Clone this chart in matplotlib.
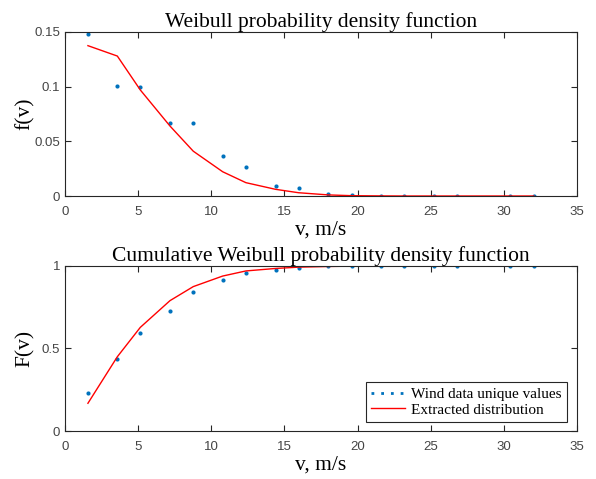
import matplotlib
matplotlib.use('Agg')
import numpy as np
import matplotlib.pyplot as plt
from matplotlib.lines import Line2D

# wind speed bins (unique values), m/s
v = [1.57, 3.58, 5.15, 7.18, 8.77, 10.78, 12.37, 14.4, 15.97, 18.0, 19.6,
     21.6, 23.2, 25.2, 26.8, 30.4, 32.05]
# empirical pdf / cdf
f_data = [0.148, 0.1006, 0.100, 0.067, 0.067, 0.0369, 0.0265, 0.0094, 0.0076,
          0.002, 0.0006, 0.0002, 0.0001, 0.0, 0.0, 0.0, 0.0]
F_data = [0.232, 0.434, 0.594, 0.729, 0.84, 0.913, 0.956, 0.978, 0.99,
          0.997, 0.999, 1.0, 1.0, 1.0, 1.0, 1.0, 1.0]
# fitted weibull
f_fit = [0.1375, 0.128, 0.097, 0.064, 0.041, 0.0222, 0.0122, 0.0061, 0.003,
         0.001, 0.0003, 0.0001, 0.0, 0.0, 0.0, 0.0, 0.0]
F_fit = [0.168, 0.45, 0.628, 0.79, 0.875, 0.939, 0.97, 0.985, 0.993,
         0.997, 0.999, 1.0, 1.0, 1.0, 1.0, 1.0, 1.0]

blue = '#0072BD'
serif = 'Liberation Serif'
sans = 'Liberation Sans'
plt.rcParams['font.family'] = sans
plt.rcParams['axes.edgecolor'] = '#262626'

fig = plt.figure(figsize=(5.96, 4.79), dpi=100)
ax1 = fig.add_axes([0.109, 0.5908, 0.859, 0.3424])
ax2 = fig.add_axes([0.109, 0.1002, 0.859, 0.3445])

def style(ax):
    ax.set_xlim(0, 35)
    ax.set_xticks(range(0, 36, 5))
    ax.tick_params(direction='in', top=True, right=True, labelsize=9.5,
                   colors='#262626', length=4, width=0.8)
    ax.tick_params(axis='x', pad=7)
    ax.tick_params(labelcolor='#444444')
    for s in ax.spines.values():
        s.set_linewidth(0.8)
    ax.set_xlabel('v, m/s', family=serif, fontsize=15.5, labelpad=2)
    ax.yaxis.set_label_coords(-0.058, 0.5)

ax1.plot(v, f_data, ls='none', marker='o', ms=3, mew=0, color=blue)
ax1.plot(v, f_fit, color='r', lw=1)
style(ax1)
ax1.set_ylim(0, 0.15)
ax1.set_yticks([0, 0.05, 0.1, 0.15])
ax1.set_yticklabels(['0', '0.05', '0.1', '0.15'])
ax1.set_ylabel('f(v)', family=serif, fontsize=15.5)
ax1.set_title('Weibull probability density function', family=serif, fontsize=15.5, pad=3.5)

ax2.plot(v, F_data, ls='none', marker='o', ms=3, mew=0, color=blue)
ax2.plot(v, F_fit, color='r', lw=1)
style(ax2)
ax2.set_ylim(0, 1)
ax2.set_yticks([0, 0.5, 1])
ax2.set_yticklabels(['0', '0.5', '1'])
ax2.set_ylabel('F(v)', family=serif, fontsize=15.5)
ax2.set_title('Cumulative Weibull probability density function', family=serif, fontsize=15.5, pad=3.5)

handles = [Line2D([], [], color=blue, ls=(0, (1, 2.5)), lw=2),
           Line2D([], [], color='r', lw=1)]
leg = ax2.legend(handles, ['Wind data unique values', 'Extracted distribution'],
                 loc='lower right', bbox_to_anchor=(0.98, 0.055),
                 prop={'family': serif, 'size': 11}, fancybox=False,
                 framealpha=1, borderpad=0.35, labelspacing=0.1,
                 handlelength=2.2, handletextpad=0.4, borderaxespad=0)
leg.get_frame().set_edgecolor('#262626')
leg.get_frame().set_linewidth(0.8)

plt.savefig('out.png', dpi=100)
